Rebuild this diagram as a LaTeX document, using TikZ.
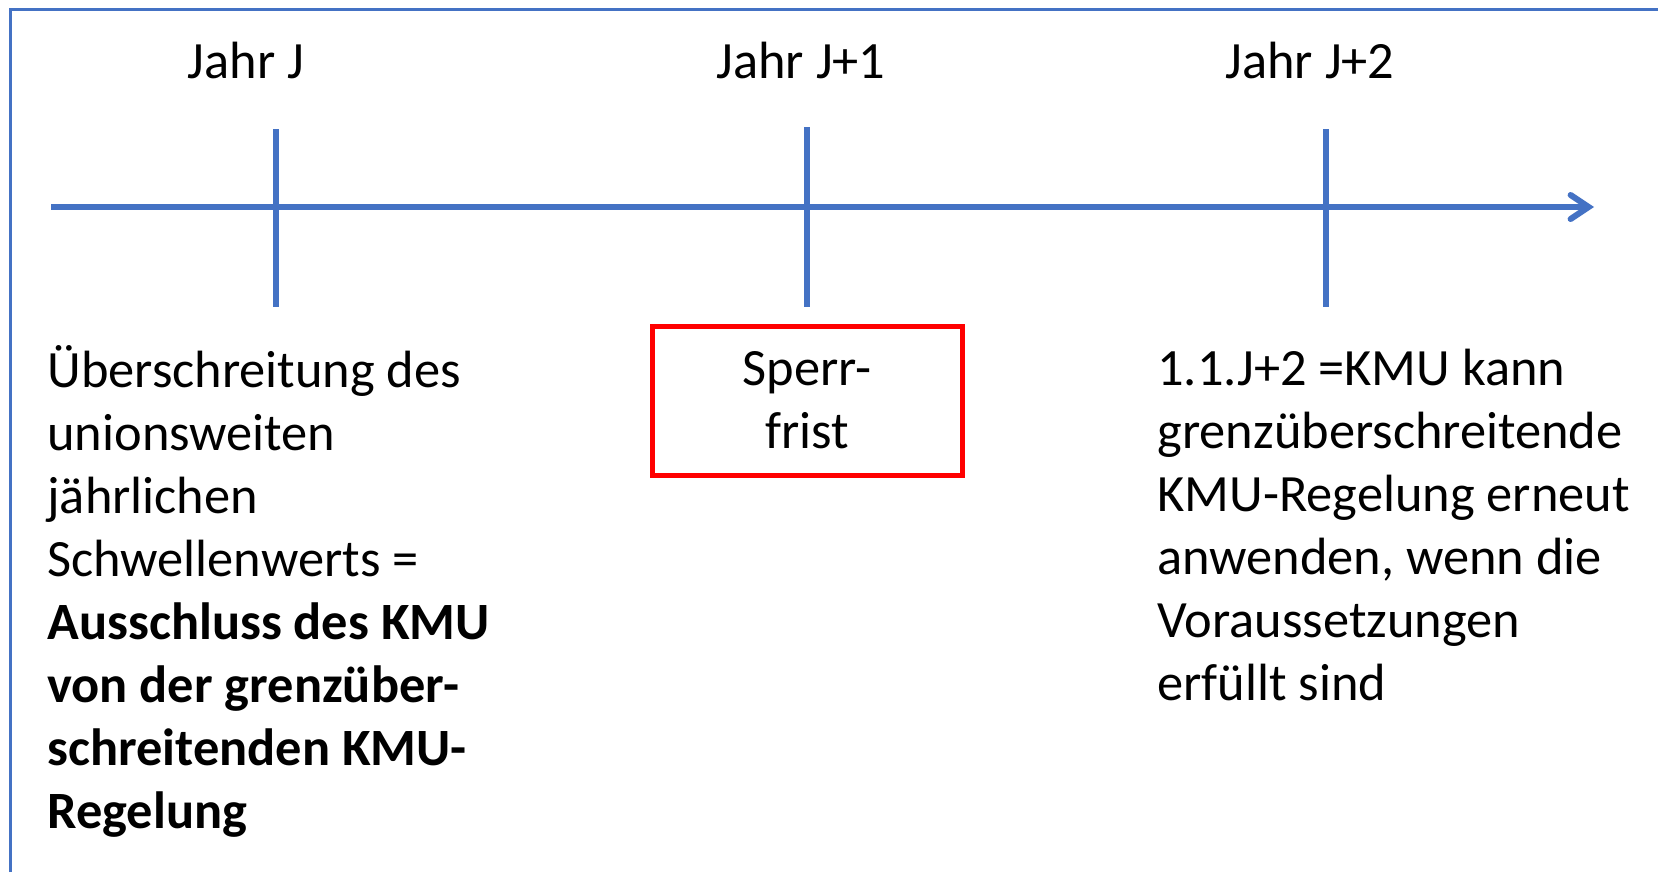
\documentclass[tikz,border=0pt]{standalone}
\usepackage{fontspec}
\setmainfont{Carlito}
\usetikzlibrary{arrows.meta}
\usetikzlibrary{positioning}
\definecolor{mblue}{HTML}{4472C4}
\definecolor{mred}{HTML}{FF0000}
\tikzset{axis/.style = {line width = 3pt, mblue,
                        -{Straight Barb[length = 9pt, width = 12pt, line cap = round]}}}
\tikzset{yeartick/.style = {line width = 3pt, mblue}}
\tikzset{year/.style = {anchor = base, inner sep = 0,
                        font = \fontsize{26.2}{31.5}\selectfont}}
\tikzset{note/.style = {anchor = base west, inner sep = 0, align = left,
                        font = \fontsize{26.2}{31.5}\selectfont}}
\tikzset{sperrbox/.style = {draw = mred, line width = 2.5pt, align = center, inner sep = 0,
                            minimum width = 155pt, minimum height = 74.5pt,
                            font = \fontsize{26.2}{31.5}\selectfont}}

\begin{document}
\begin{tikzpicture}[x = 0.5pt, y = -0.5pt]
  \useasboundingbox (0, 0) rectangle (1658, 872);
  \draw [mblue, line width = 1.5pt] (10, 872) -- (10, 10) -- (1658, 10); % frame

  \coordinate (start) at (51, 207);
  \coordinate (end) at (1594, 207);
  \draw [axis] (start) -- (end);

  \coordinate (t0a) at (276, 129);
  \coordinate (t0b) at (276, 307);
  \coordinate (t1a) at (807, 127);
  \coordinate (t1b) at (807, 307);
  \coordinate (t2a) at (1326, 129);
  \coordinate (t2b) at (1326, 307);
  \draw [yeartick] (t0a) -- (t0b);
  \draw [yeartick] (t1a) -- (t1b);
  \draw [yeartick] (t2a) -- (t2b);

  \node [year] (jahr0) at (246, 79) {Jahr J};
  \node [year] (jahr1) at (801, 79) {Jahr J+1};
  \node [year] (jahr2) at (1310, 79) {Jahr J+2};

  % base anchor sits on the last line
  \node [note] (excl) at (47, 828) {Überschreitung des\\unionsweiten\\jährlichen\\Schwellenwerts =\\%
    \textbf{Ausschluss des KMU}\\\textbf{von der grenzüber-}\\\textbf{schreitenden KMU-}\\\textbf{Regelung}};
  \node [sperrbox] (sperr) at (807, 400.5) {Sperr-\\frist};
  \node [note] (again) at (1157, 700) {1.1.J+2 =KMU kann\\grenzüberschreitende\\KMU-Regelung erneut\\%
    anwenden, wenn die\\Voraussetzungen\\erfüllt sind};
\end{tikzpicture}
\end{document}
